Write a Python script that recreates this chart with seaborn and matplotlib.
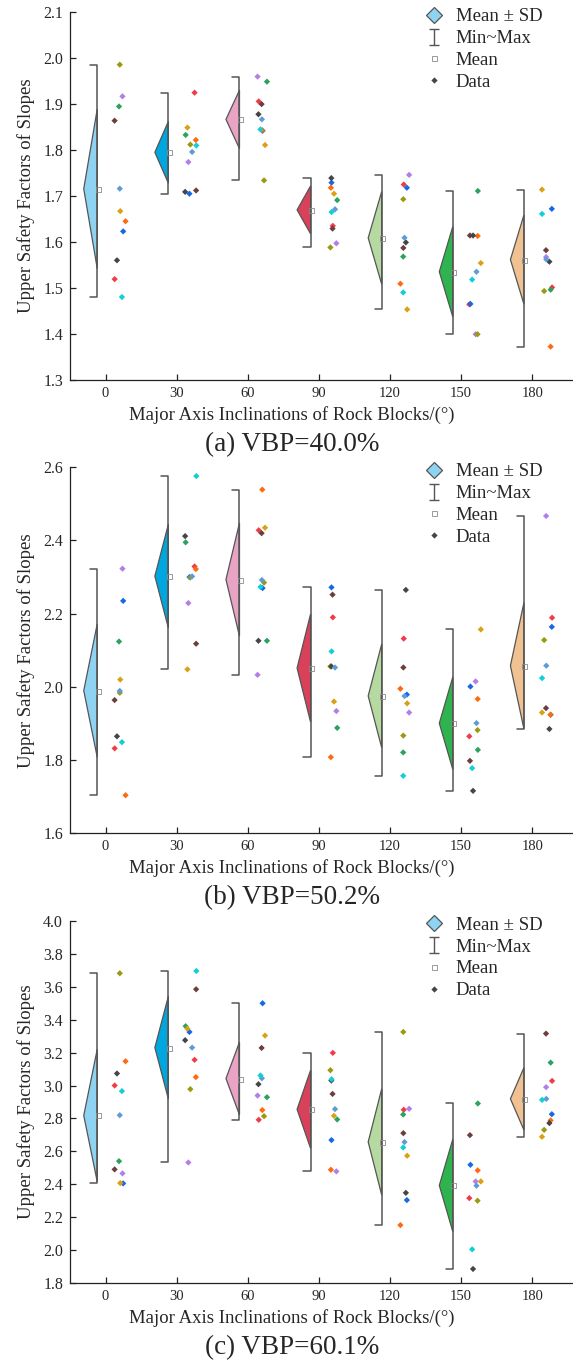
"""Upper safety factors of slopes vs. major axis inclination, three VBP levels."""
import numpy as np
import pandas as pd
import seaborn as sns
import matplotlib.pyplot as plt
from matplotlib.lines import Line2D
from matplotlib.path import Path

angles = [0, 30, 60, 90, 120, 150, 180]

# one colour per sample (same order as the values in every group below)
point_names = ["red", "blue", "green", "purple", "orange", "gold",
               "olive", "brown", "darkgray", "steelblue", "cyan"]
point_colors = ["#f03c46", "#1668e3", "#2ca25f", "#b27ee8", "#ff6a10", "#d9a214",
                "#9a9a10", "#6e3d3d", "#454545", "#5f9bd6", "#10cfd6"]
box_colors = ["#8fd3f2", "#00a6de", "#e9a3c4", "#d9415a", "#b5d9a0", "#2fb34f", "#f0c291"]

vbp_40 = [
    [1.519, 1.623, 1.895, 1.917, 1.645, 1.667, 1.986, 1.864, 1.560, 1.716, 1.480],
    [1.925, 1.705, 1.833, 1.774, 1.822, 1.849, 1.812, 1.712, 1.709, 1.796, 1.810],
    [1.906, 1.842, 1.949, 1.960, 1.843, 1.811, 1.734, 1.900, 1.878, 1.867, 1.845],
    [1.635, 1.729, 1.691, 1.597, 1.718, 1.705, 1.588, 1.629, 1.739, 1.671, 1.665],
    [1.725, 1.718, 1.568, 1.746, 1.509, 1.453, 1.693, 1.587, 1.599, 1.609, 1.490],
    [1.464, 1.465, 1.711, 1.399, 1.613, 1.554, 1.399, 1.614, 1.614, 1.535, 1.518],
    [1.501, 1.672, 1.496, 1.567, 1.372, 1.714, 1.493, 1.582, 1.557, 1.562, 1.661],
]
vbp_50 = [
    [1.832, 2.235, 2.124, 2.323, 1.704, 2.020, 1.984, 1.964, 1.865, 1.989, 1.849],
    [2.329, 2.300, 2.395, 2.229, 2.322, 2.048, 2.299, 2.118, 2.412, 2.302, 2.576],
    [2.428, 2.270, 2.126, 2.033, 2.539, 2.435, 2.285, 2.420, 2.126, 2.292, 2.273],
    [2.190, 2.272, 1.888, 1.934, 1.808, 1.960, 2.056, 2.252, 2.056, 2.053, 2.097],
    [2.132, 1.979, 1.821, 1.930, 1.995, 1.955, 1.867, 2.053, 2.265, 1.975, 1.757],
    [1.865, 2.001, 1.828, 2.015, 1.967, 2.157, 1.882, 1.798, 1.716, 1.901, 1.778],
    [2.189, 2.164, 1.924, 2.467, 1.924, 1.930, 2.128, 1.942, 1.885, 2.058, 2.024],
]
vbp_60 = [
    [3.000, 2.406, 2.541, 2.467, 3.147, 2.408, 3.681, 2.491, 3.073, 2.820, 2.966],
    [3.156, 3.325, 3.360, 2.533, 3.051, 3.345, 2.978, 3.584, 3.275, 3.230, 3.695],
    [2.792, 3.499, 2.929, 2.939, 2.851, 3.303, 2.814, 3.228, 3.008, 3.044, 3.061],
    [3.198, 2.669, 2.794, 2.479, 2.489, 2.816, 3.093, 2.949, 3.030, 2.857, 3.038],
    [2.853, 2.305, 2.824, 2.859, 2.153, 2.574, 3.325, 2.711, 2.349, 2.657, 2.624],
    [2.317, 2.519, 2.891, 2.418, 2.485, 2.418, 2.301, 2.699, 1.887, 2.392, 2.006],
    [3.028, 2.826, 3.139, 2.990, 2.788, 2.689, 2.731, 3.315, 2.772, 2.919, 2.913],
]

captions = ["(a) VBP=40.0%", "(b) VBP=50.2%", "(c) VBP=60.1%"]
y_limits = [(1.3, 2.1), (1.6, 2.6), (1.8, 4.0)]
y_steps = [0.1, 0.2, 0.2]

sns.set_style("ticks")
plt.rcParams["font.family"] = ["Liberation Serif", "DejaVu Serif"]
plt.rcParams["mathtext.fontset"] = "stix"

W, H = 573, 1360
AX_LEFT = 70
EDGE = "#555555"

# axes top/bottom in pixels
boxes = [(12.3, 379.7), (467.3, 833.3), (920.7, 1283.3)]

fig = plt.figure(figsize=(W / 100, H / 100), dpi=100)

bracket_path = Path([(-0.3, -0.5), (0.3, -0.5), (0, -0.5), (0, 0.5), (-0.3, 0.5), (0.3, 0.5)],
                    [Path.MOVETO, Path.LINETO, Path.MOVETO, Path.LINETO, Path.MOVETO, Path.LINETO])


def draw_panel(ax, values, ylim, step, caption, hpx):
    df = pd.DataFrame({
        "angle": np.repeat(angles, len(point_names)),
        "point": point_names * len(angles),
        "value": np.concatenate(values),
    })
    df["xpos"] = df["angle"] + 6.0

    np.random.seed(7)
    sns.stripplot(data=df, x="xpos", y="value", hue="point", hue_order=point_names,
                  palette=dict(zip(point_names, point_colors)), native_scale=True,
                  jitter=0.085, marker="D", size=3.2, linewidth=0, legend=False,
                  ax=ax, zorder=3)

    stats = df.groupby("angle")["value"].agg(["mean", "std", "min", "max"])
    for i, (ang, row) in enumerate(stats.iterrows()):
        xb = ang - 3.5
        ax.fill([xb, xb - 5.7, xb],
                [row["mean"] + row["std"], row["mean"], row["mean"] - row["std"]],
                facecolor=box_colors[i], edgecolor=EDGE, lw=0.9, zorder=2)
        ax.plot([xb - 3, xb, xb, xb - 3], [row["max"], row["max"], row["min"], row["min"]],
                color=EDGE, lw=1.1, zorder=2.5)
        ax.plot(xb + 0.2, row["mean"], marker="s", ms=3.6, mfc="none", mec="#8a8a8a",
                mew=0.6, zorder=4)

    ax.set_xlim(-15, 197.2)
    ax.set_xticks(angles)
    ax.set_ylim(*ylim)
    ax.set_yticks(np.arange(ylim[0], ylim[1] + step / 2, step))
    ax.yaxis.set_major_formatter(plt.FormatStrFormatter("%.1f"))
    ax.tick_params(direction="in", length=4, width=0.9, color="#222222")
    ax.tick_params(axis="x", labelsize=10.5, pad=5)
    ax.tick_params(axis="y", labelsize=11.5, pad=5)
    sns.despine(ax=ax)
    for s in ("left", "bottom"):
        ax.spines[s].set_linewidth(0.9)
        ax.spines[s].set_color("#222222")

    ax.set_xlabel("Major Axis Inclinations of Rock Blocks/(°)", fontsize=13.5)
    ax.xaxis.label.set_verticalalignment("center")
    ax.xaxis.set_label_coords((292 - AX_LEFT) / (W - AX_LEFT), -35 / hpx)
    ax.set_ylabel("Upper Safety Factors of Slopes", fontsize=13.5)
    ax.yaxis.label.set_verticalalignment("center")
    ax.yaxis.set_label_coords(-44 / (W - AX_LEFT), 0.5)

    ax.text((292 - AX_LEFT) / (W - AX_LEFT), -64.5 / hpx, caption, transform=ax.transAxes,
            ha="center", va="center", fontsize=19.5)

    handles = [
        Line2D([], [], ls="none", marker="D", ms=8, mfc="#8fd3f2", mec=EDGE, mew=0.9),
        Line2D([], [], ls="none", marker=bracket_path, ms=12, mfc="none", mec=EDGE, mew=1.0),
        Line2D([], [], ls="none", marker="s", ms=3.6, mfc="none", mec="#8a8a8a", mew=0.6),
        Line2D([], [], ls="none", marker="D", ms=3.2, mfc="#454545", mec="none"),
    ]
    ax.legend(handles, ["Mean ± SD", "Min~Max", "Mean", "Data"], loc="upper left",
              bbox_to_anchor=(0.702, 1 + 4 / hpx), frameon=False, fontsize=13.5,
              handlelength=1.2, handletextpad=0.55, labelspacing=0.25,
              borderpad=0, borderaxespad=0)


for values, ylim, step, caption, (top, bottom) in zip([vbp_40, vbp_50, vbp_60], y_limits,
                                                        y_steps, captions, boxes):
    hpx = bottom - top
    ax = fig.add_axes([AX_LEFT / W, 1 - bottom / H, 1 - AX_LEFT / W, hpx / H])
    draw_panel(ax, values, ylim, step, caption, hpx)

fig.savefig("out.png", dpi=100)
